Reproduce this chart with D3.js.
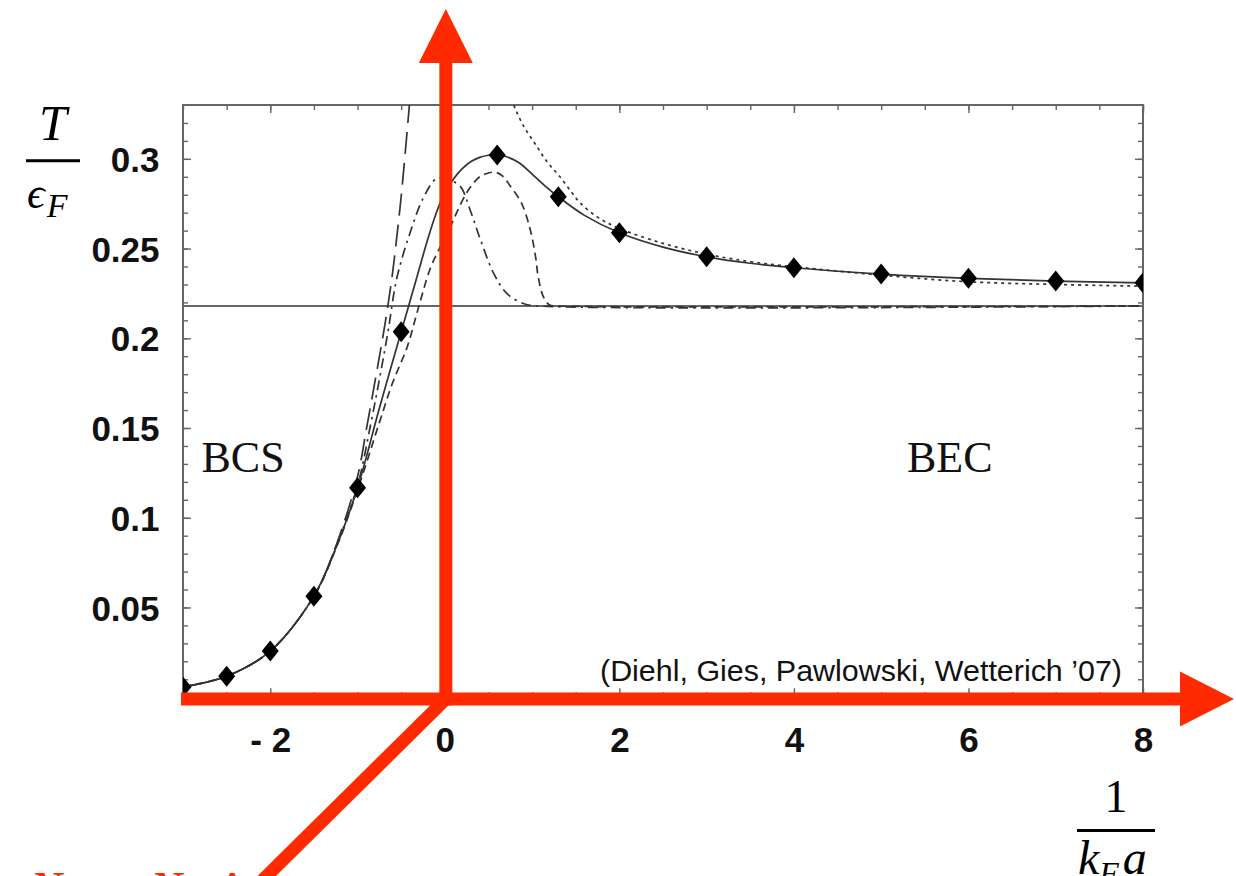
<!DOCTYPE html>
<html>
<head>
<meta charset="utf-8">
<script src="https://cdn.jsdelivr.net/npm/d3@7"></script>
<style>
  html, body { margin: 0; padding: 0; background: #fff; }
  svg { display: block; }
</style>
</head>
<body>
<svg id="chart" width="1236" height="876"></svg>
<script>
// ---- axis ticks ----
const xTicks = [-2, 0, 2, 4, 6, 8];
const xTickLabels = ["- 2", "0", "2", "4", "6", "8"];
const yTicks = [0.05, 0.1, 0.15, 0.2, 0.25, 0.3];
const yTickLabels = ["0.05", "0.1", "0.15", "0.2", "0.25", "0.3"];

// ---- critical temperature, full flow result (diamonds) ----
const pointX = [-3, -2.5, -2, -1.5, -1, -0.5, 0.6, 1.3, 2, 3, 4, 5, 6, 7, 8];
const pointT = [0.0057, 0.0117, 0.0257, 0.0563, 0.1167, 0.2036, 0.3022, 0.2789,
                0.2588, 0.2454, 0.2393, 0.2358, 0.2334, 0.2319, 0.2309];

// ---- solid curve through the diamonds ----
const solidX = [-3, -2.5, -2, -1.5, -1.25, -1, -0.75, -0.5, -0.4, -0.3, -0.2, -0.1, 0,
                0.1, 0.2, 0.3, 0.4, 0.5, 0.6, 0.7, 0.85, 1, 1.15, 1.3, 1.6, 2, 2.5,
                3, 3.5, 4, 5, 6, 7, 8];
const solidT = [0.0057, 0.0117, 0.0257, 0.0563, 0.083, 0.1167, 0.161, 0.2036, 0.2205,
                0.2375, 0.2545, 0.2695, 0.2815, 0.2888, 0.2945, 0.2985, 0.3008, 0.302,
                0.3022, 0.3013, 0.2978, 0.2915, 0.2848, 0.2789, 0.2685, 0.2588, 0.2508,
                0.2454, 0.2418, 0.2393, 0.2358, 0.2334, 0.2319, 0.2309];

// ---- dashed curve ----
const dashedX = [-3, -2.5, -2, -1.5, -1.25, -1, -0.75, -0.6, -0.43, -0.31, -0.17, -0.07,
                 0.05, 0.14, 0.27, 0.4, 0.5, 0.58, 0.66, 0.75, 0.88, 0.98, 1.04, 1.07,
                 1.13, 1.2, 1.3, 8];
const dashedT = [0.0057, 0.0117, 0.0257, 0.0563, 0.0825, 0.1155, 0.153, 0.175, 0.1953,
                 0.2157, 0.2385, 0.2492, 0.2605, 0.2705, 0.2826, 0.29, 0.2921, 0.2925,
                 0.2905, 0.2848, 0.2752, 0.2603, 0.2454, 0.2343, 0.2231, 0.2185, 0.218,
                 0.218];

// ---- dash-dot curve ----
const dashDotX = [-3, -2.5, -2, -1.5, -1.25, -1, -0.85, -0.75, -0.65, -0.55, -0.4, -0.24,
                  -0.09, 0.05, 0.18, 0.29, 0.41, 0.56, 0.71, 0.9, 1.05, 8];
const dashDotT = [0.0057, 0.0117, 0.0257, 0.0563, 0.0835, 0.118, 0.152, 0.177, 0.204,
                  0.2335, 0.2585, 0.2789, 0.2891, 0.2882, 0.2845, 0.2715, 0.2547, 0.2362,
                  0.225, 0.2194, 0.2181, 0.218];

// ---- long-dash curve ----
const longDashX = [-3, -2.5, -2, -1.5, -1.25, -1, -0.9, -0.8, -0.72, -0.66, -0.6, -0.55,
                   -0.5, -0.46, -0.42, -0.38];
const longDashT = [0.0057, 0.0117, 0.0257, 0.0563, 0.084, 0.123, 0.149, 0.176, 0.198,
                   0.2157, 0.236, 0.2565, 0.279, 0.30, 0.322, 0.345];

// ---- dotted curve (BEC side) ----
const dottedX = [0.76, 0.82, 0.9, 0.98, 1.06, 1.13, 1.22, 1.32, 1.45, 1.55, 1.75, 2, 2.5,
                 3, 3.5, 4, 5, 6, 7, 8];
const dottedT = [0.3335, 0.3265, 0.3185, 0.3123, 0.3065, 0.3012, 0.2955, 0.29, 0.2815,
                 0.2755, 0.2675, 0.2612, 0.2529, 0.2469, 0.2427, 0.2399, 0.2352, 0.2315,
                 0.23, 0.229];

// ---- BEC limit ----
const becLimit = 0.218;

const svg = d3.select("#chart");
const x = d3.scaleLinear().domain([-3, 8]).range([183, 1143]);
const y = d3.scaleLinear().domain([0, 0.33]).range([697.2, 105]);

const ink = "#333";
const frameInk = "#666";
const red = "#ff2a00";

svg.append("defs").append("clipPath").attr("id", "plotArea")
  .append("rect")
  .attr("x", x(-3)).attr("y", y(0.33))
  .attr("width", x(8) - x(-3)).attr("height", y(0) - y(0.33));

// ---- frame ----
svg.append("rect")
  .attr("x", x(-3)).attr("y", y(0.33))
  .attr("width", x(8) - x(-3)).attr("height", y(0) - y(0.33))
  .attr("fill", "none").attr("stroke", frameInk).attr("stroke-width", 2);

// minor / major inward ticks
const minorY = d3.range(0.01, 0.33, 0.01);
const minorX = d3.range(-3, 8.001, 0.5);

function tickAxis(axis, tx, ty) {
  const g = svg.append("g").attr("transform", `translate(${tx},${ty})`).call(axis);
  g.select(".domain").remove();
  g.selectAll("line").attr("stroke", frameInk).attr("stroke-width", 1.4);
  return g;
}
tickAxis(d3.axisLeft(y).tickValues(minorY).tickSize(-5).tickFormat(""), x(-3), 0);
tickAxis(d3.axisRight(y).tickValues(minorY).tickSize(-5).tickFormat(""), x(8), 0);
tickAxis(d3.axisTop(x).tickValues(minorX).tickSize(-5).tickFormat(""), 0, y(0.33));
tickAxis(d3.axisBottom(x).tickValues(minorX).tickSize(-5).tickFormat(""), 0, y(0));
tickAxis(d3.axisRight(y).tickValues(yTicks).tickSize(-8).tickFormat(""), x(8), 0);
tickAxis(d3.axisTop(x).tickValues(xTicks).tickSize(-8).tickFormat(""), 0, y(0.33));

// labelled axes
const yAxis = tickAxis(
  d3.axisLeft(y).tickValues(yTicks).tickSize(-8).tickPadding(23.5)
    .tickFormat((d, i) => yTickLabels[i]), x(-3), 0);
const xAxis = tickAxis(
  d3.axisBottom(x).tickValues(xTicks).tickSize(-9).tickPadding(30)
    .tickFormat((d, i) => xTickLabels[i]), 0, y(0));
[yAxis, xAxis].forEach(g => g.selectAll("text")
  .attr("fill", "#111")
  .style("font-family", "'Liberation Sans', Arial, Helvetica, sans-serif")
  .style("font-weight", "bold")
  .style("font-size", "35px"));
yAxis.selectAll("text").attr("dy", "0.36em");

// ---- curves ----
const plot = svg.append("g").attr("clip-path", "url(#plotArea)");
const line = d3.line()
  .x(d => x(d[0])).y(d => y(d[1]))
  .curve(d3.curveCatmullRom.alpha(0.5));

plot.append("line")
  .attr("x1", x(-3)).attr("x2", x(8))
  .attr("y1", y(becLimit)).attr("y2", y(becLimit))
  .attr("stroke", frameInk).attr("stroke-width", 2);

const curves = [
  { xs: longDashX, ts: longDashT, dash: "22,9" },
  { xs: dashDotX, ts: dashDotT, dash: "10,5,2.5,5" },
  { xs: dashedX, ts: dashedT, dash: "8,5" },
  { xs: dottedX, ts: dottedT, dash: "3,4" },
  { xs: solidX, ts: solidT, dash: null }
];
curves.forEach(c => {
  plot.append("path")
    .datum(d3.zip(c.xs, c.ts))
    .attr("d", line)
    .attr("fill", "none")
    .attr("stroke", ink)
    .attr("stroke-width", 1.7)
    .attr("stroke-dasharray", c.dash);
});

// diamonds
const diamond = {
  draw(ctx) {
    const w = 8.5, h = 10.5;
    ctx.moveTo(0, -h); ctx.lineTo(w, 0); ctx.lineTo(0, h); ctx.lineTo(-w, 0); ctx.closePath();
  }
};
plot.selectAll(".pt")
  .data(d3.zip(pointX, pointT))
  .join("path")
  .attr("class", "pt")
  .attr("transform", d => `translate(${x(d[0])},${y(d[1])})`)
  .attr("d", d3.symbol().type(diamond))
  .attr("fill", "#000");

// ---- regime labels and reference ----
const serif = "'Liberation Serif', 'Times New Roman', 'DejaVu Serif', serif";
svg.append("text").attr("x", 201.5).attr("y", 471.5)
  .style("font-family", serif).style("font-size", "44px").attr("fill", "#111").text("BCS");
svg.append("text").attr("x", 907).attr("y", 471.5)
  .style("font-family", serif).style("font-size", "44px").attr("fill", "#111").text("BEC");
svg.append("text").attr("x", 1122).attr("y", 681).attr("text-anchor", "end")
  .style("font-family", "'Liberation Sans', Arial, Helvetica, sans-serif")
  .style("font-size", "30px").attr("fill", "#111")
  .attr("textLength", 522).attr("lengthAdjust", "spacingAndGlyphs")
  .text("(Diehl, Gies, Pawlowski, Wetterich \u201907)");

// ---- axis titles as fractions ----
const yTitle = svg.append("g");
yTitle.append("text").attr("x", 53).attr("y", 140).attr("text-anchor", "middle")
  .style("font-family", serif).style("font-style", "italic").style("font-size", "50px")
  .attr("fill", "#000").text("T");
yTitle.append("line").attr("x1", 26).attr("x2", 80).attr("y1", 160.7).attr("y2", 160.7)
  .attr("stroke", "#000").attr("stroke-width", 3);
const eps = yTitle.append("text").attr("x", 27).attr("y", 208)
  .style("font-family", serif).style("font-style", "italic").style("font-size", "44px")
  .attr("fill", "#000");
eps.append("tspan").text("\u03F5");
eps.append("tspan").attr("dx", 2).attr("dy", 9).style("font-size", "34px").text("F");

const xTitle = svg.append("g");
xTitle.append("text").attr("x", 1116).attr("y", 812).attr("text-anchor", "middle")
  .style("font-family", serif).style("font-size", "46px").attr("fill", "#000").text("1");
xTitle.append("line").attr("x1", 1077).attr("x2", 1155).attr("y1", 830.5).attr("y2", 830.5)
  .attr("stroke", "#000").attr("stroke-width", 3);
const kfa = xTitle.append("text").attr("x", 1078).attr("y", 874)
  .style("font-family", serif).style("font-style", "italic").style("font-size", "48px")
  .attr("fill", "#000");
kfa.append("tspan").text("k");
kfa.append("tspan").attr("dy", 10).style("font-size", "32px").text("F");
kfa.append("tspan").attr("dy", -10).attr("dx", 4).text("a");

// ---- red phase-diagram axes at the origin ----
const ox = x(0) + 1, oy = y(0) + 1.8;
const arrows = svg.append("g").attr("fill", red).attr("stroke", "none");
// vertical (temperature) axis
arrows.append("rect").attr("x", ox - 6.5).attr("y", 60).attr("width", 13).attr("height", oy + 6.5 - 60);
arrows.append("path").attr("d", `M${ox},9 L${ox + 27},63 L${ox - 27},63 Z`);
// horizontal (interaction) axis
arrows.append("rect").attr("x", 181).attr("y", oy - 6.5).attr("width", 1182 - 181).attr("height", 13);
arrows.append("path").attr("d", `M1234,${oy} L1180,${oy - 27.5} L1180,${oy + 27.5} Z`);
// diagonal (imbalance) axis
svg.append("line")
  .attr("x1", ox).attr("y1", oy)
  .attr("x2", ox - 260).attr("y2", oy + 257)
  .attr("stroke", red).attr("stroke-width", 13);

// label of the diagonal axis, running off the bottom edge
const imb = svg.append("text").attr("y", 905)
  .style("font-family", serif).style("font-style", "italic").style("font-size", "48px")
  .attr("fill", red);
imb.append("tspan").attr("x", 30).text("N");
imb.append("tspan").attr("dy", 10).style("font-size", "32px").text("\u2191");
imb.append("tspan").attr("dy", -10).attr("x", 96).text("\u2212");
imb.append("tspan").attr("x", 150).text("N");
imb.append("tspan").attr("dy", 10).style("font-size", "32px").text("\u2193");
imb.append("tspan").attr("dy", -10).attr("x", 217).style("font-style", "normal").text("\u0394");
</script>
</body>
</html>
